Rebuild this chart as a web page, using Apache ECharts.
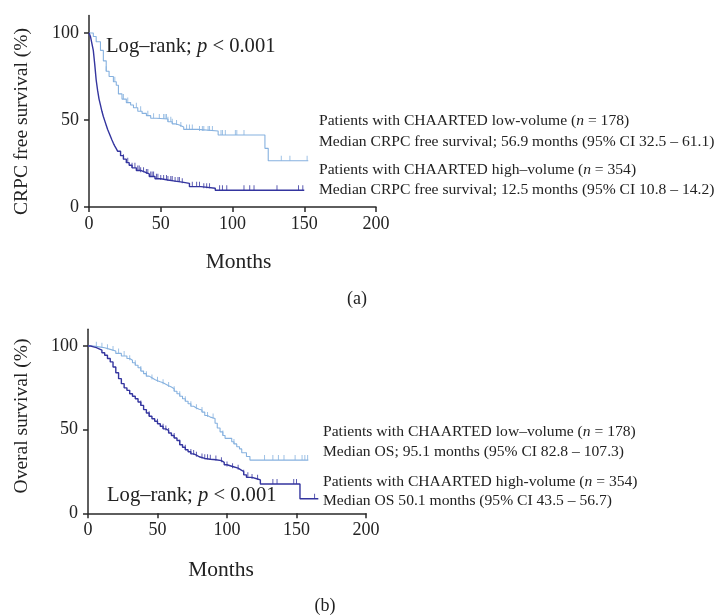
<!DOCTYPE html>
<html><head><meta charset="utf-8">
<script src="https://cdn.jsdelivr.net/npm/echarts@6/dist/echarts.min.js"></script>
<style>html,body{margin:0;padding:0;background:#fff}#c{width:714px;height:616px}</style>
</head><body><div id="c"></div>
<script>
// ---- Data ----
// Panel (a): CRPC free survival
const aLowT  = [0, 3, 5, 8, 10, 12, 14, 17, 19, 20.5, 23, 26, 29, 31, 34, 37, 40, 43, 47, 55, 58, 60, 63, 66, 76, 90, 122.6, 124.9, 152.8];
const aLowS  = [100, 98, 95, 90, 84, 78, 75, 72, 70, 65, 62, 60, 58.6, 57, 55, 53.8, 52.5, 51, 50.6, 49, 47.8, 47.1, 46, 44.6, 43.7, 41.4, 33.7, 26.6, 26.6];
const aLowCens = [12, 18, 24, 27, 33, 36, 41, 45, 49, 52, 53, 54, 55, 57, 58, 61, 64, 68, 70, 72, 77, 79, 80, 83, 84, 86, 92, 93, 95, 102, 103, 108, 134, 140, 152];
const aHighT = [0, 1, 2, 3, 4, 5, 6, 7, 8, 9, 10, 11, 12, 13, 14, 15, 16, 17, 18, 19, 20, 22, 24, 26, 28, 30, 33, 36, 39, 42, 46, 50, 55, 60, 65, 70, 78, 88, 150];
const aHighS = [100, 98, 94, 90, 82, 73, 67, 62, 58.5, 55, 52, 49.5, 47, 44.5, 42.5, 40.5, 38.5, 36.6, 35, 33.5, 32, 29.5, 27.5, 25.5, 24, 22.5, 21, 20, 19, 17.5, 16.2, 15.5, 14.9, 14.3, 13.6, 11.7, 10.8, 9.6, 9.6];
const aHighCens = [24, 27, 30, 32, 34, 35, 36, 38, 40, 41, 43, 44, 45, 47, 48, 50, 52, 54, 55, 57, 58, 60, 62, 63, 65, 72, 75, 77, 80, 82, 84, 91, 93, 96, 108, 112, 115, 131, 146, 149];

// Panel (b): Overall survival
const bLowT  = [0, 4, 8, 12, 16, 20, 24, 28, 30, 32, 34, 36, 38, 40, 42, 44, 46, 48, 50, 52, 54, 56, 58, 60, 62, 64, 66, 68, 70, 72, 74, 76, 78, 80, 82, 84, 86, 88, 91.4, 93, 95, 97, 98.6, 103.4, 105, 107, 109, 110.6, 114, 116.5, 158.5];
const bLowS  = [100, 99.5, 99, 98, 97, 95.6, 94, 92.5, 91.5, 90, 88.5, 87, 85, 83.5, 82, 81, 80, 79.3, 78.6, 78, 77.2, 76.3, 75.5, 74.5, 73, 71.5, 70, 68.5, 67, 65.5, 64, 63, 62.2, 61.7, 60.5, 58.5, 57.5, 56.7, 53.8, 51, 48.7, 46.5, 44.8, 42.8, 41.5, 39.8, 38.5, 36.2, 34, 31.8, 31.8];
const bLowCens = [6, 10, 14, 18, 22, 26, 30, 34, 38, 42, 46, 50, 54, 58, 62, 66, 70, 74, 78, 82, 86, 90, 97, 105, 127, 133, 137, 141, 149, 154, 156, 158];
const bHighT = [0, 2, 4, 6, 8, 10, 12, 14, 16, 18, 20, 22, 24, 26, 28, 30, 32, 34, 36, 38, 40, 42, 44, 46, 48, 50, 52, 54, 56, 58, 60, 62, 64, 66, 68, 70, 72, 74, 76, 78, 80, 84, 88, 92, 96, 98, 100, 104, 108, 110, 112, 114, 118, 122, 124, 152.5, 165.7];
const bHighS = [100, 99.5, 99, 98.3, 97.6, 96, 94.5, 92.5, 90.5, 87.5, 84, 80.5, 77.5, 75, 73.5, 71.5, 70, 68.5, 66.5, 64.5, 62, 60, 58, 56.5, 55, 53.5, 52, 50.5, 49.5, 48, 46.5, 45, 43.5, 41, 39.5, 38, 36.8, 35.5, 34.8, 33.8, 32.8, 32.3, 32, 31.5, 30.5, 29, 28, 27, 26, 25, 23, 21.5, 20.5, 20, 17.5, 8.7, 8.7];
const bHighCens = [38, 44, 50, 54, 56, 58, 62, 66, 70, 74, 76, 78, 82, 84, 86, 88, 92, 96, 100, 104, 108, 112, 115, 118, 122, 133, 136, 148, 150, 163];

const xTicks = [0, 50, 100, 150, 200];
const yTicks = [0, 50, 100];

const annA = [
  ['Patients with CHAARTED low-volume (', 'n', ' = 178)'],
  ['Median CRPC free survival; 56.9 months (95% CI 32.5 – 61.1)'],
  ['Patients with CHAARTED high–volume (', 'n', ' = 354)'],
  ['Median CRPC free survival; 12.5 months (95% CI 10.8 – 14.2)']
];
const annB = [
  ['Patients with CHAARTED low–volume (', 'n', ' = 178)'],
  ['Median OS; 95.1 months (95% CI 82.8 – 107.3)'],
  ['Patients with CHAARTED high-volume (', 'n', ' = 354)'],
  ['Median OS 50.1 months (95% CI 43.5 – 56.7)']
];

// ---- helpers ----
const LIGHT = '#86b1df';
const DARK = '#34359f';
const FONT = '"Liberation Serif", "DejaVu Serif", serif';
const TXT = '#222';
const ANN = 15.6;
const LR = 20.6;
function pairs(t, s) { return t.map((v, i) => [v, s[i]]); }
function stepAt(t, s, x) { let v = s[0]; for (let i = 0; i < t.length; i++) { if (t[i] <= x) v = s[i]; } return v; }
function cens(t, s, c) { return c.map(x => [x, stepAt(t, s, x)]); }

function xAxis(gi) {
  return {
    type: 'value', gridIndex: gi, min: 0, max: 200, interval: 50,
    axisLine: { lineStyle: { color: '#2a2a2a', width: 1.5 } },
    axisTick: { show: true, length: 5, lineStyle: { color: '#2a2a2a', width: 1.5 }, customValues: xTicks },
    axisLabel: { fontFamily: FONT, fontSize: 18, color: TXT, margin: 8, customValues: xTicks },
    splitLine: { show: false }
  };
}
function yAxis(gi) {
  return {
    type: 'value', gridIndex: gi, min: 0, max: 110, interval: 50,
    axisLine: { show: true, lineStyle: { color: '#2a2a2a', width: 1.5 } },
    axisTick: { show: true, length: 5, lineStyle: { color: '#2a2a2a', width: 1.5 }, customValues: yTicks },
    axisLabel: { fontFamily: FONT, fontSize: 18, color: TXT, margin: 10, customValues: yTicks },
    splitLine: { show: false }
  };
}
function curve(gi, t, s, color, w) {
  return { type: 'line', xAxisIndex: gi, yAxisIndex: gi, step: 'end', data: pairs(t, s),
    symbol: 'none', lineStyle: { color: color, width: w }, silent: true, animation: false };
}
function censor(gi, t, s, c, color) {
  return { type: 'scatter', xAxisIndex: gi, yAxisIndex: gi, data: cens(t, s, c),
    symbol: 'rect', symbolSize: [1, 5], symbolOffset: [0, -2.5],
    itemStyle: { color: color }, silent: true, animation: false };
}
function annText(lines, x, ys) {
  return lines.map((parts, i) => ({
    type: 'text', left: x, top: ys[i],
    style: {
      text: parts.length === 3 ? parts[0] + '{i|' + parts[1] + '}' + parts[2] : parts[0],
      rich: { i: { fontStyle: 'italic', fontFamily: FONT, fontSize: ANN, fill: TXT } },
      font: ANN + 'px ' + FONT, fill: TXT
    }
  }));
}
function logrank(x, y) {
  return { type: 'text', left: x, top: y,
    style: { text: 'Log–rank; {i|p} < 0.001',
      rich: { i: { fontStyle: 'italic', fontFamily: FONT, fontSize: LR, fill: TXT } },
      font: LR + 'px ' + FONT, fill: TXT } };
}
function centered(text, x, y, size, rot) {
  return { type: 'text', x: x, y: y, rotation: rot || 0,
    style: { text: text, font: size + 'px ' + FONT, fill: TXT, textAlign: 'center', textVerticalAlign: 'middle' } };
}

const chart = echarts.init(document.getElementById('c'), null, { renderer: 'canvas' });
chart.setOption({
  animation: false,
  backgroundColor: '#fff',
  grid: [
    { left: 89, top: 15.6, width: 287, height: 191.4 },
    { left: 88, top: 329.3, width: 278, height: 184 }
  ],
  xAxis: [xAxis(0), xAxis(1)],
  yAxis: [yAxis(0), yAxis(1)],
  series: [
    curve(0, aLowT, aLowS, LIGHT, 1.1),
    curve(0, aHighT, aHighS, DARK, 1.4),
    censor(0, aLowT, aLowS, aLowCens, LIGHT),
    censor(0, aHighT, aHighS, aHighCens, DARK),
    curve(1, bLowT, bLowS, LIGHT, 1.1),
    curve(1, bHighT, bHighS, DARK, 1.4),
    censor(1, bLowT, bLowS, bLowCens, LIGHT),
    censor(1, bHighT, bHighS, bHighCens, DARK)
  ],
  graphic: [
    logrank(106, 36),
    logrank(107, 485),
    ...annText(annA, 319, [113, 134, 162, 182]),
    ...annText(annB, 323, [424, 444, 474, 493]),
    centered('CRPC free survival (%)', 22, 121.5, 19.5, Math.PI / 2),
    centered('Overal survival (%)', 22, 416, 19.5, Math.PI / 2),
    centered('Months', 238.5, 262, 21.5),
    centered('Months', 221, 570, 21.5),
    centered('(a)', 357, 299, 18),
    centered('(b)', 325, 606, 18)
  ]
});
</script>
</body></html>
